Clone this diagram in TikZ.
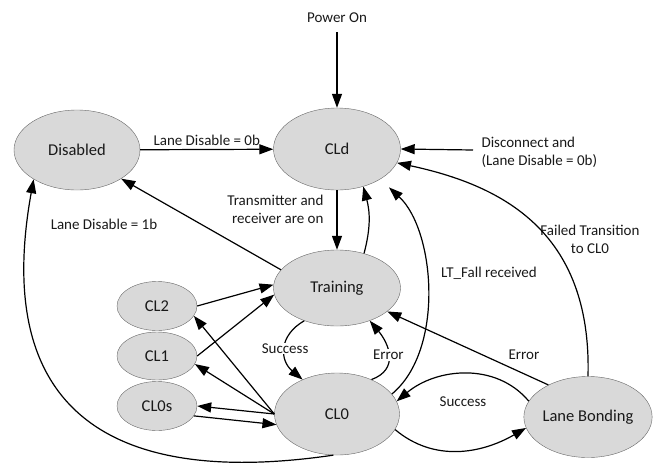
\documentclass[tikz,border=0pt]{standalone}
\usepackage{fontspec}
\setmainfont{Carlito}
\usetikzlibrary{shapes.geometric,arrows.meta}

\begin{document}
\begin{tikzpicture}[x=1pt,y=1pt,
    phase/.style={ellipse,draw=black!60,fill=gray!30,inner sep=0pt,text=black!90,font=\fontsize{16.5}{19}\selectfont},
    lbl/.style={text=black!90,font=\fontsize{15}{18}\selectfont},
    arr/.style={-{Triangle[length=14pt,width=10pt]},line width=1.2pt}]
    \useasboundingbox (0,0) rectangle (659,-469);
    \node[phase,minimum width=126pt,minimum height=80pt] (dis) at (77,-150) {Disabled};
    \node[phase,minimum width=127pt,minimum height=82pt] (cld) at (337,-149) {CLd};
    \node[phase,minimum width=127pt,minimum height=76pt] (trn) at (337,-288) {Training};
    \node[phase,minimum width=125pt,minimum height=82pt] (cl0) at (337,-414) {CL0};
    \node[phase,minimum width=128pt,minimum height=81pt] (lb) at (588,-417) {Lane Bonding};
    \node[phase,minimum width=80pt,minimum height=49pt] (cl2) at (157,-306) {CL2};
    \node[phase,minimum width=80pt,minimum height=48pt] (cl1) at (157,-356) {CL1};
    \node[phase,minimum width=80pt,minimum height=49pt] (cl0s) at (157,-406) {CL0s};
    \node[lbl] (pwr) at (337,-18) {Power On};
    \coordinate (disc) at (473,-150);
    \node[lbl,anchor=west,align=left] (disctxt) at (478,-152) {Disconnect and\\(Lane Disable = 0b)};
    \node[lbl,anchor=east,align=right] (txon) at (327,-209) {Transmitter and\\receiver are on};
    \node[lbl] (l1b) at (104,-224) {Lane Disable = 1b};
    \node[lbl] (ltf) at (489,-273) {LT\_Fall received};
    \node[lbl,align=center] (ftx) at (590,-239) {Failed Transition\\to CL0};
    \node[lbl] (err2) at (524,-355) {Error};
    \node[lbl] (suc2) at (463,-402) {Success};

    \draw[arr,shorten <=6pt] (pwr) -- (cld);
    \draw[arr] (dis) -- (cld) node[lbl,midway,above] (l0b) {Lane Disable = 0b};
    \draw[arr] (disc) -- (cld.east);
    \draw[arr] (cld) -- (trn);
    \draw[arr] (trn.52) to[out=75,in=-75] (cld.-55);
    \draw[arr] (trn.162) -- (dis.-33);
    \draw[arr] (cl0.265) .. controls (110,-488) and (-8,-410) .. (dis.-146);
    \draw[arr,shorten >=12pt] (cl0.20) .. controls (445,-350) and (435,-230) .. (cld.-35);
    \draw[arr] (lb.north) .. controls (592,-230) and (500,-185) .. (cld.-13);
    \draw[arr] (lb.141) -- (trn.-25);
    \draw[arr] (lb.165) to[out=130,in=40] (cl0.12);
    \draw[arr] (cl0.-15) to[out=-40,in=210] (lb.190);
    \draw[arr] (trn.-135) to[out=210,in=140,looseness=1.3] node[lbl,fill=white,inner sep=1pt] (suc1) {Success} (cl0.135);
    \draw[arr] (cl0.45) to[out=20,in=-50,looseness=1.3] node[lbl,fill=white,inner sep=1pt] (err1) {Error} (trn.-45);
    \draw[arr] (cl2.east) -- (trn.177);
    \draw[arr] (cl1.east) -- (trn.186);
    \draw[arr] (cl0.west) -- (cl2.-15);
    \draw[arr] (cl0.west) -- (cl1.-12);
    \draw[arr] (cl0.west) -- (cl0s.east);
    \draw[arr] (cl0s.-15) -- (cl0.190);
\end{tikzpicture}
\end{document}
